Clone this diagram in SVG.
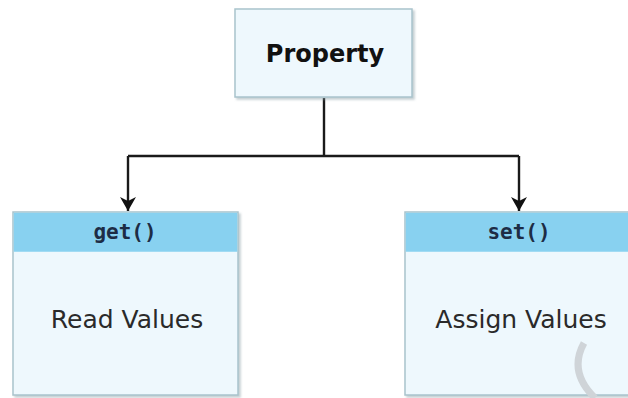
<svg xmlns="http://www.w3.org/2000/svg" width="628" height="398" viewBox="0 0 628 398">
  <style>
    .box { fill: #eef8fd; stroke: #a9c3cc; stroke-width: 1.5; }
    .head { fill: #88d1f0; }
    .title { font-family: "DejaVu Sans", Verdana, sans-serif; font-weight: bold; font-size: 24px; fill: #111; }
    .code { font-family: "DejaVu Sans Mono", "Liberation Mono", monospace; font-weight: bold; font-size: 21px; fill: #1d2c45; }
    .body { font-family: "DejaVu Sans", Verdana, sans-serif; font-size: 25px; fill: #2a2a2a; }
    .wire { fill: none; stroke: #1a1a1a; stroke-width: 2.4; }
  </style>
  <defs>
    <!-- notched arrowhead, tip at the end of the line -->
    <marker id="arrow" viewBox="0 0 16 16" refX="15" refY="8" markerWidth="16" markerHeight="16" orient="auto" markerUnits="userSpaceOnUse">
      <path d="M1,0 L15,8 L1,16 L5,8 Z" fill="#111"/>
    </marker>
    <filter id="shadow" x="-5%" y="-5%" width="115%" height="115%">
      <feDropShadow dx="2" dy="2" stdDeviation="1.2" flood-color="#8a9ea6" flood-opacity="0.5"/>
    </filter>
  </defs>
  <rect width="628" height="398" fill="#ffffff"/>

  <g id="connectors">
    <path class="wire" d="M324,98 V156"/>
    <path class="wire" d="M128,156 H519"/>
    <path class="wire" d="M128,156 V211" marker-end="url(#arrow)"/>
    <path class="wire" d="M519,156 V211" marker-end="url(#arrow)"/>
  </g>

  <g id="property">
    <rect class="box" x="235" y="9" width="177" height="88" filter="url(#shadow)"/>
    <text class="title" x="325" y="62" text-anchor="middle">Property</text>
  </g>

  <g id="get">
    <rect class="box" x="13" y="212" width="225" height="183" filter="url(#shadow)"/>
    <rect class="head" x="13.75" y="212.75" width="223.5" height="39"/>
    <text class="code" x="125" y="239" text-anchor="middle">get()</text>
    <text class="body" x="127" y="328" text-anchor="middle">Read Values</text>
  </g>

  <g id="set">
    <rect class="box" x="405" y="212" width="230" height="183" filter="url(#shadow)"/>
    <rect class="head" x="405.75" y="212.75" width="230" height="39"/>
    <text class="code" x="519" y="239" text-anchor="middle">set()</text>
    <text class="body" x="521" y="328" text-anchor="middle">Assign Values</text>
  </g>

  <path d="M584,343 Q568,372 595,398" fill="none" stroke="#cfd4d8" stroke-width="7"/>
</svg>
